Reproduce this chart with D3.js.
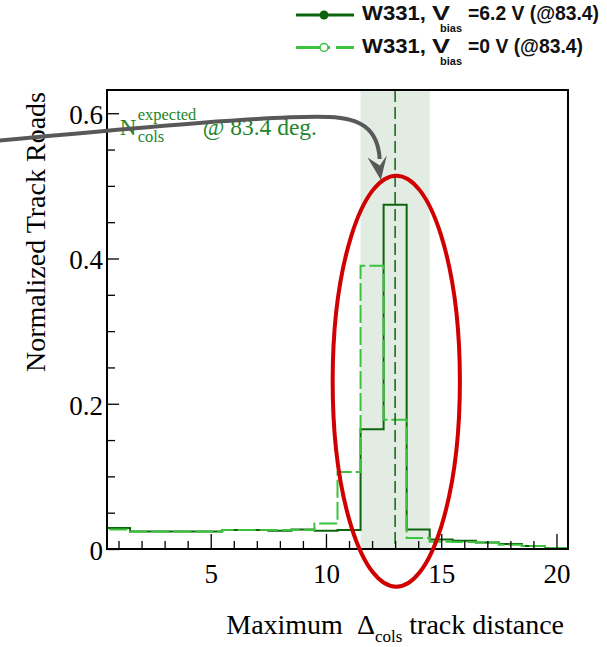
<!DOCTYPE html>
<html>
<head>
<meta charset="utf-8">
<script src="https://cdn.jsdelivr.net/npm/d3@7"></script>
<style>
  body { margin: 0; background: #fff; }
  svg { display: block; }
</style>
</head>
<body>
<svg id="chart" width="607" height="647"></svg>
<script>
// bin centres (bin width 1)
const binCenters = [1, 2, 3, 4, 5, 6, 7, 8, 9, 10, 11, 12, 13, 14, 15, 16, 17, 18, 19, 20];
// W331, Vbias = 6.2 V
const biasOn = [0.029, 0.024, 0.024, 0.024, 0.024, 0.026, 0.026, 0.025, 0.027, 0.025,
                0.026, 0.165, 0.474, 0.027, 0.013, 0.0115, 0.009, 0.007, 0.004, 0.001];
// W331, Vbias = 0 V
const biasOff = [0.027, 0.024, 0.024, 0.024, 0.024, 0.026, 0.026, 0.026, 0.026, 0.035,
                 0.106, 0.390, 0.178, 0.015, 0.010, 0.0095, 0.009, 0.006, 0.004, 0.0015];

const xMajorTicks = [5, 10, 15, 20];
const xMinorTicks = [1, 2, 3, 4, 6, 7, 8, 9, 11, 12, 13, 14, 16, 17, 18, 19];
const yMajorTicks = [0, 0.2, 0.4, 0.6];
const yMinorTicks = [0.05, 0.1, 0.15, 0.25, 0.3, 0.35, 0.45, 0.5, 0.55];

const expectedCols = 13;          // N_cols expected @ 83.4 deg
const expectedBand = [11.5, 14.5];

const legendEntries = [
  { pre: "W331,", v: "V", sub: "bias", post: "=6.2 V (@83.4)" },
  { pre: "W331,", v: "V", sub: "bias", post: "=0 V (@83.4)" }
];

const darkGreen = "#0c640c";
const lightGreen = "#3cc23c";

const svg = d3.select("#chart");
const plot = { left: 107, right: 568, top: 90, bottom: 549 };

const x = d3.scaleLinear().domain([0.5, 20.5]).range([plot.left, plot.right]);
const y = d3.scaleLinear().domain([0, 0.632]).range([plot.bottom, plot.top]);

// expected band
svg.append("rect")
  .attr("x", x(expectedBand[0]))
  .attr("y", plot.top)
  .attr("width", x(expectedBand[1]) - x(expectedBand[0]))
  .attr("height", plot.bottom - plot.top)
  .attr("fill", "#e3ece3");

// histogram outline helper
function stepPoints(vals) {
  const pts = [[binCenters[0] - 0.5, 0]];
  vals.forEach((v, i) => pts.push([binCenters[i] - 0.5, v]));
  pts.push([binCenters[binCenters.length - 1] + 0.5, vals[vals.length - 1]]);
  return pts;
}
const histLine = d3.line()
  .x(d => x(d[0]))
  .y(d => y(d[1]))
  .curve(d3.curveStepAfter);

svg.append("path")
  .attr("d", histLine(stepPoints(biasOn)))
  .attr("fill", "none")
  .attr("stroke", darkGreen)
  .attr("stroke-width", 2);

svg.append("path")
  .attr("d", histLine(stepPoints(biasOff)))
  .attr("fill", "none")
  .attr("stroke", lightGreen)
  .attr("stroke-width", 2)
  .attr("stroke-dasharray", "18,4");

// expected position line
svg.append("line")
  .attr("x1", x(expectedCols)).attr("x2", x(expectedCols))
  .attr("y1", plot.top).attr("y2", plot.bottom)
  .attr("stroke", "#1d6b1d")
  .attr("stroke-width", 1.6)
  .attr("stroke-dasharray", "12,5");

// axes
const serif = "'Liberation Serif', 'Times New Roman', serif";

svg.append("g")
  .attr("transform", `translate(0,${plot.bottom})`)
  .call(d3.axisBottom(x).tickValues(xMajorTicks).tickSize(-15).tickPadding(15));
svg.append("g")
  .attr("transform", `translate(0,${plot.bottom})`)
  .call(d3.axisBottom(x).tickValues(xMinorTicks).tickSize(-8).tickFormat(""));

const yAxis = svg.append("g")
  .attr("transform", `translate(${plot.left},0)`)
  .call(d3.axisLeft(y).tickValues(yMajorTicks).tickSize(-12).tickPadding(4)
    .tickFormat(d => d === 0 ? "0" : d3.format(".1f")(d)));
svg.append("g")
  .attr("transform", `translate(${plot.left},0)`)
  .call(d3.axisLeft(y).tickValues(yMinorTicks).tickSize(-8).tickFormat(""));

svg.selectAll(".domain").remove();
svg.selectAll(".tick line").attr("stroke", "#000").attr("stroke-width", 1.3);
svg.selectAll(".tick text")
  .attr("font-family", serif)
  .attr("font-size", 27)
  .attr("fill", "#000");
yAxis.selectAll(".tick text").attr("dy", "0.38em");

// frame
svg.append("rect")
  .attr("x", plot.left).attr("y", plot.top)
  .attr("width", plot.right - plot.left)
  .attr("height", plot.bottom - plot.top)
  .attr("fill", "none")
  .attr("stroke", "#000")
  .attr("stroke-width", 2);

// axis titles
const xTitle = svg.append("text")
  .attr("x", 564).attr("y", 634)
  .attr("text-anchor", "end")
  .attr("font-family", serif)
  .attr("font-size", 28);
xTitle.append("tspan").text("Maximum\u00a0\u00a0Δ");
xTitle.append("tspan").attr("font-size", 17).attr("dy", 8).text("cols");
xTitle.append("tspan").attr("dy", -8).text("\u00a0track distance");

svg.append("text")
  .attr("transform", "translate(45,232) rotate(-90)")
  .attr("text-anchor", "middle")
  .attr("font-family", serif)
  .attr("font-size", 28)
  .text("Normalized Track Roads");

// annotation label
const labX = x(1.05), labY = y(0.570);
const lab = svg.append("g").attr("fill", "#23852a").attr("font-family", serif);
lab.append("text").attr("x", labX).attr("y", labY).attr("font-size", 23).text("N");
lab.append("text").attr("x", labX + 18).attr("y", labY - 15).attr("font-size", 16.5).text("expected");
lab.append("text").attr("x", labX + 18).attr("y", labY + 7).attr("font-size", 16.5).text("cols");
lab.append("text").attr("x", labX + 83).attr("y", labY).attr("font-size", 23.5).text("@ 83.4 deg.");

// arrow (data units)
const arrowPath = d3.path();
arrowPath.moveTo(x(-4.3), y(0.5620));
arrowPath.bezierCurveTo(x(2.4), y(0.582), x(8.0), y(0.5976), x(10.14), y(0.5949));
arrowPath.bezierCurveTo(x(11.44), y(0.5935), x(12.25), y(0.580), x(12.33), y(0.537));
svg.append("path")
  .attr("d", arrowPath.toString())
  .attr("fill", "none")
  .attr("stroke", "#585858")
  .attr("stroke-width", 4);
const head = [[12.38, 0.508], [11.80, 0.539], [12.34, 0.528], [12.64, 0.542]];
svg.append("path")
  .attr("d", d3.line().x(d => x(d[0])).y(d => y(d[1]))(head) + "Z")
  .attr("fill", "#585858");

// red ellipse
svg.append("ellipse")
  .attr("cx", x(13.05))
  .attr("cy", y(0.231))
  .attr("rx", x(13.05 + 2.76) - x(13.05))
  .attr("ry", y(0) - y(0.283))
  .attr("fill", "none")
  .attr("stroke", "#d00000")
  .attr("stroke-width", 4);

// legend
const sans = "'Liberation Sans', Arial, sans-serif";
const legend = svg.append("g").attr("font-family", sans).attr("font-weight", "bold").attr("fill", "#111");
legendEntries.forEach((e, i) => {
  const ly = 15 + i * 32.5;
  const g = legend.append("g");
  if (i === 0) {
    g.append("line").attr("x1", 296).attr("x2", 354).attr("y1", ly).attr("y2", ly)
      .attr("stroke", darkGreen).attr("stroke-width", 3);
    g.append("circle").attr("cx", 324).attr("cy", ly).attr("r", 4.5).attr("fill", darkGreen);
  } else {
    g.append("line").attr("x1", 296).attr("x2", 354).attr("y1", ly).attr("y2", ly)
      .attr("stroke", lightGreen).attr("stroke-width", 3).attr("stroke-dasharray", "34,6");
    g.append("circle").attr("cx", 324).attr("cy", ly).attr("r", 4).attr("fill", "#fff")
      .attr("stroke", lightGreen).attr("stroke-width", 1.5);
  }
  const base = ly + 5;
  g.append("text").attr("x", 362).attr("y", base).attr("font-size", 20)
    .attr("textLength", 64).attr("lengthAdjust", "spacingAndGlyphs").text(e.pre);
  g.append("text").attr("x", 432).attr("y", base).attr("font-size", 20)
    .attr("textLength", 18).attr("lengthAdjust", "spacingAndGlyphs").text(e.v);
  g.append("text").attr("x", 440).attr("y", base + 12).attr("font-size", 11).text(e.sub);
  g.append("text").attr("x", 468).attr("y", base).attr("font-size", 20)
    .attr("textLength", i === 0 ? 131 : 115).attr("lengthAdjust", "spacingAndGlyphs").text(e.post);
});
</script>
</body>
</html>
